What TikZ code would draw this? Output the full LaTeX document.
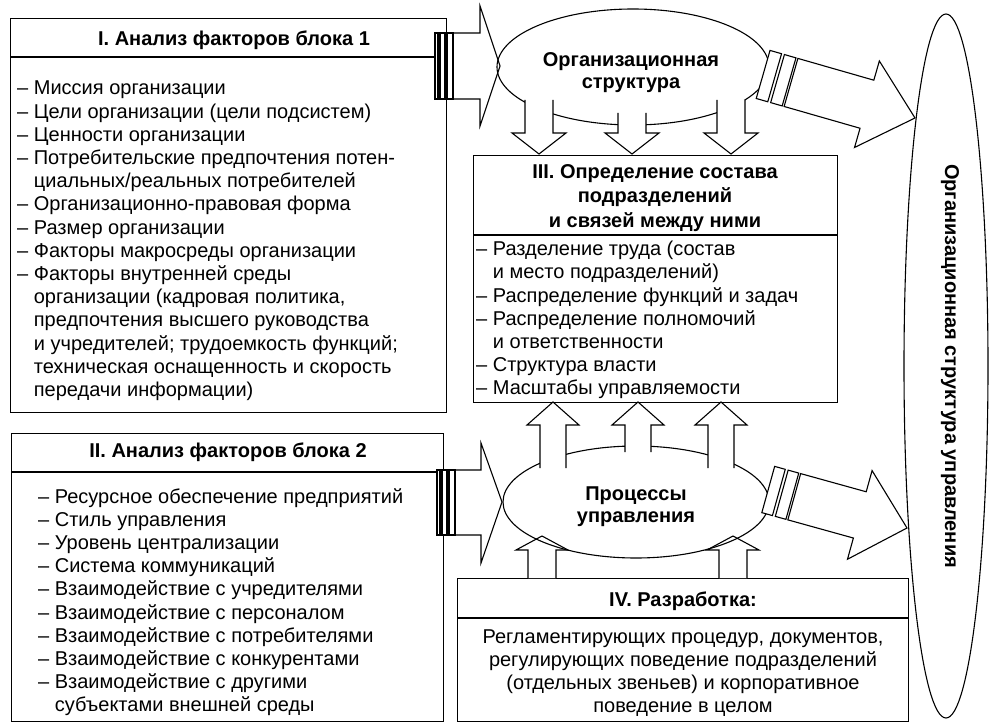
\documentclass[tikz,border=0pt]{standalone}
\usepackage{fontspec}
\setmainfont{Liberation Sans}
\usetikzlibrary{shapes.geometric}
\newcommand{\varw}[6]{%
  \fill[white] ({#1-#5},#2) -- ({#1-#5},#3) -- ({#1-#6},#3) -- (#1,#4) -- ({#1+#6},#3) -- ({#1+#5},#3) -- ({#1+#5},#2) -- cycle;
  \draw[ln] ({#1-#5},#2) -- ({#1-#5},#3) -- ({#1-#6},#3) -- (#1,#4) -- ({#1+#6},#3) -- ({#1+#5},#3) -- ({#1+#5},#2);
}
\begin{document}
\begin{tikzpicture}[x=1pt,y=-1pt,
  ln/.style={line width=1.1pt, line join=miter},
  box/.style={ln, draw, anchor=north west, inner sep=0pt},
  txt/.style={anchor=north west, inner sep=0pt, align=left, font=\fontsize{20}{23.2}\selectfont},
  ctxt/.style={inner sep=0pt, align=center, font=\fontsize{20}{23.2}\selectfont},
  hdr/.style={inner sep=0pt, align=center, font=\fontsize{20}{24.5}\selectfont\bfseries},
  oval/.style={ln, draw, ellipse, inner sep=0pt},
]
\useasboundingbox (0,0) rectangle (994,722);
\fill[white] (0,0) rectangle (994,722);

% boxes
\node[box, minimum width=436pt, minimum height=394pt] (b1) at (10,18) {};
\node[box, minimum width=432pt, minimum height=288pt] (b2) at (11,433) {};
\node[box, minimum width=364pt, minimum height=247pt] (b3) at (473,155) {};
\node[box, minimum width=451pt, minimum height=143pt] (b4) at (457,578) {};
\draw[ln] (b1.west |- 0,57) -- (b1.east |- 0,57);
\draw[ln] (b2.west |- 0,472) -- (b2.east |- 0,472);
\draw[ln] (b3.west |- 0,235) -- (b3.east |- 0,235);
\draw[ln] (b4.west |- 0,618) -- (b4.east |- 0,618);

% horizontal arrows (drawn before ellipses)
\draw[ln, fill=white] (453,33) -- (480,33) -- (480,6) -- (500,66) -- (480,126) -- (480,99) -- (453,99) -- cycle;
\draw[ln, fill=white] (435,33) rectangle (453,99);
\fill (437,33) rectangle (441,99);
\fill (444,33) rectangle (448,99);
\draw[ln, fill=white] (455,470) -- (481,470) -- (481,443) -- (502,502) -- (481,563) -- (481,535) -- (455,535) -- cycle;
\draw[ln, fill=white] (437,470) rectangle (455,535);
\fill (439,470) rectangle (443,535);
\fill (446,470) rectangle (450,535);

% bottom up arrows (box IV -> processes)
\varw{542}{578}{550}{536}{14}{26}
\varw{733}{578}{550}{536}{14}{26}

% ellipses
\node[oval, minimum width=272pt, minimum height=116pt] (org) at (633,67) {};
\node[oval, minimum width=266pt, minimum height=112pt] (proc) at (636,502) {};
\node[oval, minimum width=84pt, minimum height=704pt] (res) at (946,366) {};

% down arrows (org -> III)
\varw{539}{100}{133}{154}{14}{27}
\varw{632}{113}{133}{154}{14}{27}
\varw{731}{100}{133}{154}{14}{27}
% up arrows (processes -> III)
\varw{553}{468}{425}{402}{13}{26}
\varw{638}{452}{425}{402}{13}{26}
\varw{721}{468}{425}{402}{13}{26}

% diagonal arrows
\begin{scope}[shift={(915,118)}, rotate=-16]
  \draw[ln, fill=white] (-129,-25) -- (-50,-25) -- (-50,-45) -- (0,0) -- (-50,45) -- (-50,25) -- (-129,25) -- cycle;
  \draw[ln, fill=white] (-143,-25) rectangle (-131,25);
  \draw[ln, fill=white] (-158,-25) rectangle (-146,25);
\end{scope}
\begin{scope}[shift={(907,528)}, rotate=-15.5]
  \draw[ln, fill=white] (-117,-24) -- (-49,-24) -- (-49,-46) -- (0,0) -- (-49,46) -- (-49,24) -- (-117,24) -- cycle;
  \draw[ln, fill=white] (-130,-24) rectangle (-119,24);
  \draw[ln, fill=white] (-144,-24) rectangle (-133,24);
\end{scope}

% texts
\node[hdr] (h1) at (234,40) {I. Анализ факторов блока 1};
\node[txt] (t1) at (17,81) {– Миссия организации\\
– Цели организации (цели подсистем)\\
– Ценности организации\\
– Потребительские предпочтения потен-\\
\hphantom{– }циальных/реальных потребителей\\
– Организационно-правовая форма\\
– Размер организации\\
– Факторы макросреды организации\\
– Факторы внутренней среды\\
\hphantom{– }организации (кадровая политика,\\
\hphantom{– }предпочтения высшего руководства\\
\hphantom{– }и учредителей; трудоемкость функций;\\
\hphantom{– }техническая оснащенность и скорость\\
\hphantom{– }передачи информации)};

\node[hdr] (h2) at (228,452) {II. Анализ факторов блока 2};
\node[txt] (t2) at (38,488) {– Ресурсное обеспечение предприятий\\
– Стиль управления\\
– Уровень централизации\\
– Система коммуникаций\\
– Взаимодействие с учредителями\\
– Взаимодействие с персоналом\\
– Взаимодействие с потребителями\\
– Взаимодействие с конкурентами\\
– Взаимодействие с другими\\
\hphantom{– }субъектами внешней среды};

\node[hdr] (h3) at (655,198) {III. Определение состава\\подразделений\\и связей между ними};
\node[txt] (t3) at (476,241) {– Разделение труда (состав\\
\hphantom{– }и место подразделений)\\
– Распределение функций и задач\\
– Распределение полномочий\\
\hphantom{– }и ответственности\\
– Структура власти\\
– Масштабы управляемости};

\node[hdr] (h4) at (683,601) {IV. Разработка:};
\node[ctxt] (t4) at (683,673) {Регламентирующих процедур, документов,\\
регулирующих поведение подразделений\\
(отдельных звеньев) и корпоративное\\
поведение в целом};

\node[hdr, font=\fontsize{20}{22}\selectfont\bfseries] (orgt) at (631,73) {Организационная\\структура};
\node[hdr, font=\fontsize{20}{22}\selectfont\bfseries] (proct) at (636,507) {Процессы\\управления};
\node[hdr, rotate=-90] (rest) at (950,366) {Организационная структура управления};
\end{tikzpicture}
\end{document}
